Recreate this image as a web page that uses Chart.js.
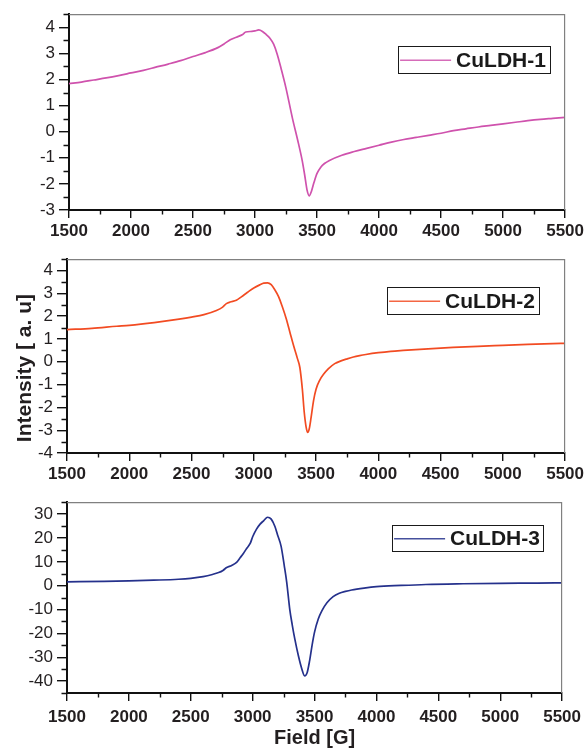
<!DOCTYPE html>
<html>
<head>
<meta charset="utf-8">
<title>EPR spectra of CuLDH samples</title>
<script src="https://cdn.jsdelivr.net/npm/chart.js@4.4.1/dist/chart.umd.min.js"></script>
<style>
  html, body { margin: 0; padding: 0; background: #ffffff; }
  #wrap { position: relative; width: 587px; height: 751px; overflow: hidden; }
  .panel { position: absolute; left: 0; width: 587px; }
</style>
</head>
<body>
<div id="wrap">
  <div class="panel" style="top:0;height:245px"><canvas id="c1"></canvas></div>
  <div class="panel" style="top:245px;height:243px"><canvas id="c2"></canvas></div>
  <div class="panel" style="top:488px;height:263px"><canvas id="c3"></canvas></div>
</div>
<script>
// ---- spectra (field in gauss, intensity in arbitrary units) ----
const FIELD_1 = [1500,1600,1700,1800,1900,2000,2100,2200,2300,2400,2500,2600,2700,2750,2800,2850,2900,2925,2975,3000,3030,3060,3090,3120,3150,3180,3210,3250,3300,3350,3380,3400,3420,3437,3455,3475,3500,3530,3560,3600,3700,3800,3900,4000,4100,4200,4300,4400,4500,4600,4700,4800,4900,5000,5100,5200,5300,5400,5500];
const CULDH_1 = [1.84,1.90,1.98,2.06,2.15,2.25,2.35,2.47,2.59,2.72,2.88,3.03,3.22,3.36,3.52,3.62,3.72,3.82,3.84,3.86,3.90,3.84,3.72,3.58,3.35,2.95,2.42,1.66,0.55,-0.45,-1.10,-1.65,-2.25,-2.46,-2.28,-1.95,-1.60,-1.36,-1.22,-1.10,-0.90,-0.76,-0.64,-0.52,-0.40,-0.30,-0.22,-0.14,-0.06,0.04,0.11,0.18,0.24,0.30,0.36,0.42,0.47,0.51,0.55];

const FIELD_2 = [1500,1700,1900,2000,2200,2400,2500,2600,2700,2750,2780,2810,2860,2900,2950,3000,3050,3080,3110,3140,3170,3200,3230,3260,3290,3320,3350,3370,3390,3405,3420,3433,3445,3460,3480,3500,3530,3560,3600,3650,3700,3750,3800,3850,3900,4000,4100,4200,4400,4600,4800,5000,5200,5400,5500];
const CULDH_2 = [1.41,1.47,1.56,1.60,1.72,1.87,1.96,2.07,2.25,2.40,2.55,2.62,2.70,2.85,3.05,3.24,3.38,3.45,3.46,3.38,3.15,2.85,2.40,1.90,1.30,0.70,0.15,-0.25,-1.20,-2.20,-2.85,-3.10,-2.95,-2.45,-1.70,-1.20,-0.80,-0.55,-0.30,-0.08,0.04,0.13,0.21,0.27,0.32,0.40,0.46,0.50,0.57,0.63,0.68,0.72,0.76,0.80,0.81];

const FIELD_3 = [1500,1800,2000,2200,2400,2500,2600,2675,2725,2760,2790,2830,2870,2900,2925,2950,2980,3000,3030,3060,3090,3120,3150,3180,3200,3230,3255,3275,3300,3320,3340,3370,3395,3420,3440,3460,3480,3500,3530,3560,3600,3650,3700,3750,3800,3900,4000,4200,4400,4700,5000,5300,5500];
const CULDH_3 = [1.6,1.8,2.0,2.3,2.7,3.1,3.8,4.7,5.5,6.4,7.6,8.5,9.8,11.8,13.5,15.5,17.7,20.5,23.6,25.8,27.3,28.7,27.9,24.8,21.5,16.5,8.5,1.5,-10.0,-16.5,-22.2,-29.5,-34.5,-37.8,-36.5,-31.5,-25.0,-19.5,-14.0,-10.5,-7.2,-4.6,-3.2,-2.4,-1.8,-1.0,-0.4,0.1,0.5,0.8,1.0,1.1,1.2];

// ---- axis settings ----
const FIELD_RANGE = [1500, 5500];
const FIELD_STEP = 500;
const Y_RANGE_1 = [-3, 4.5], Y_STEP_1 = 1;
const Y_RANGE_2 = [-4, 4.5], Y_STEP_2 = 1;
const Y_RANGE_3 = [-45, 35], Y_STEP_3 = 10;

const FONT = '"Liberation Sans", Arial, Helvetica, sans-serif';
const INK = '#231f20';

function toPoints(xs, ys) {
  return xs.map((x, i) => ({ x: x, y: ys[i] }));
}

// major ticks on whole multiples of the step, inside [min, max]
function stepTicks(min, max, step) {
  const out = [];
  for (let k = Math.ceil(min / step - 1e-9); k * step <= max + 1e-9; k++) {
    out.push({ value: +(k * step).toFixed(6) });
  }
  return out;
}

// Top/right frame, half-step minor ticks, boxed legend and free axis label
const decor = {
  id: 'decor',
  afterDraw(chart, args, o) {
    const { ctx, chartArea: a, scales } = chart;
    const xs = scales.x, ys = scales.y;
    ctx.save();

    // thin grey frame on top and right
    ctx.strokeStyle = '#808080';
    ctx.lineWidth = 1.2;
    ctx.beginPath();
    ctx.moveTo(a.left, a.top + 0.5);
    ctx.lineTo(a.right - 0.5, a.top + 0.5);
    ctx.lineTo(a.right - 0.5, a.bottom);
    ctx.stroke();

    // minor ticks (outside the axes)
    ctx.strokeStyle = '#111';
    ctx.lineWidth = 1.4;
    ctx.beginPath();
    const xm = o.xStep / 2;
    for (let v = Math.ceil(xs.min / xm) * xm; v <= xs.max + 1e-9; v += xm) {
      if (Math.abs(v / o.xStep - Math.round(v / o.xStep)) < 1e-6) continue;
      const px = Math.round(xs.getPixelForValue(v)) + 0.5;
      ctx.moveTo(px, a.bottom);
      ctx.lineTo(px, a.bottom + 4.5);
    }
    const ym = o.yStep / 2;
    for (let v = Math.ceil(ys.min / ym) * ym; v <= ys.max + 1e-9; v += ym) {
      if (Math.abs(v / o.yStep - Math.round(v / o.yStep)) < 1e-6) continue;
      const py = Math.round(ys.getPixelForValue(v)) + 0.5;
      ctx.moveTo(a.left, py);
      ctx.lineTo(a.left - 5.5, py);
    }
    ctx.stroke();

    // legend box
    const ds = chart.data.datasets[0];
    const L = o.legend;
    const bx = a.right - L.right - L.w;
    const by = a.top + L.top;
    ctx.fillStyle = '#fff';
    ctx.fillRect(bx, by, L.w, L.h);
    ctx.strokeStyle = '#1a1a1a';
    ctx.lineWidth = 1;
    ctx.strokeRect(Math.round(bx) + 0.5, Math.round(by) + 0.5, L.w, L.h);
    const cy = by + L.h / 2 + 0.5;
    ctx.strokeStyle = ds.borderColor;
    ctx.globalAlpha = 0.85;
    ctx.lineWidth = 1.5;
    ctx.beginPath();
    ctx.moveTo(bx + 2, cy);
    ctx.lineTo(bx + 53, cy);
    ctx.stroke();
    ctx.globalAlpha = 1;
    ctx.fillStyle = '#1a1a1a';
    ctx.font = 'bold 21px ' + FONT;
    ctx.textBaseline = 'middle';
    ctx.textAlign = 'left';
    ctx.fillText(ds.label, bx + 58, cy + 1);

    // vertical axis label shared by the stacked panels
    if (o.sideTitle) {
      ctx.translate(o.sideTitle.x, (a.top + a.bottom) / 2 + o.sideTitle.dy);
      ctx.rotate(-Math.PI / 2);
      ctx.fillStyle = INK;
      ctx.font = 'bold 21px ' + FONT;
      ctx.textAlign = 'center';
      ctx.textBaseline = 'middle';
      ctx.fillText(o.sideTitle.text, 0, 0);
    }
    ctx.restore();
  }
};

function makePanel(canvasId, cfg) {
  const xScale = {
    type: 'linear',
    min: FIELD_RANGE[0],
    max: FIELD_RANGE[1],
    afterFit(s) { s.height = cfg.xHeight; },
    afterBuildTicks(s) { s.ticks = stepTicks(s.min, s.max, FIELD_STEP); },
    ticks: {
      stepSize: FIELD_STEP,
      color: INK,
      padding: cfg.xPad,
      maxRotation: 0,
      autoSkip: false,
      font: { family: FONT, size: 17, weight: 'bold' },
      callback: (v) => String(v)
    },
    grid: { drawOnChartArea: false, drawTicks: true, tickLength: 8, color: '#111', lineWidth: 1.4 },
    border: { display: true, color: '#111', width: 2 }
  };
  if (cfg.xTitle) {
    xScale.title = {
      display: true,
      text: cfg.xTitle,
      color: INK,
      font: { family: FONT, size: 20, weight: 'bold' },
      padding: { top: 0, bottom: 1 }
    };
  }
  const yStep = cfg.yStep;
  return new Chart(document.getElementById(canvasId), {
    type: 'line',
    data: {
      datasets: [{
        label: cfg.label,
        data: toPoints(cfg.xs, cfg.ys),
        borderColor: cfg.color,
        borderWidth: 1.7,
        pointRadius: 0,
        fill: false,
        cubicInterpolationMode: 'monotone'
      }]
    },
    options: {
      responsive: true,
      maintainAspectRatio: false,
      animation: false,
      events: [],
      layout: { padding: cfg.padding },
      plugins: {
        legend: { display: false },
        tooltip: { enabled: false },
        decor: {
          xStep: FIELD_STEP,
          yStep: yStep,
          legend: cfg.legend,
          sideTitle: cfg.sideTitle || null
        }
      },
      scales: {
        x: xScale,
        y: {
          type: 'linear',
          min: cfg.yRange[0],
          max: cfg.yRange[1],
          afterFit(s) { s.width = cfg.yWidth; },
          afterBuildTicks(s) { s.ticks = stepTicks(s.min, s.max, yStep); },
          ticks: {
            stepSize: yStep,
            color: INK,
            padding: 4,
            autoSkip: false,
            font: { family: FONT, size: 17 },
            callback: (v) => String(v)
          },
          grid: { drawOnChartArea: false, drawTicks: true, tickLength: 10, color: '#111', lineWidth: 1.4 },
          border: { display: true, color: '#111', width: 2 }
        }
      }
    },
    plugins: [decor]
  });
}

makePanel('c1', {
  label: 'CuLDH-1', xs: FIELD_1, ys: CULDH_1, color: '#cf52ad',
  yRange: Y_RANGE_1, yStep: Y_STEP_1,
  yWidth: 69, xHeight: 35, xPad: 3,
  padding: { top: 13, right: 20, left: 0, bottom: 0 },
  legend: { right: 15, top: 32, w: 152, h: 27 }
});

makePanel('c2', {
  label: 'CuLDH-2', xs: FIELD_2, ys: CULDH_2, color: '#f24b22',
  yRange: Y_RANGE_2, yStep: Y_STEP_2,
  yWidth: 67, xHeight: 35, xPad: 3,
  padding: { top: 10, right: 21, left: 0, bottom: 0 },
  legend: { right: 26, top: 28, w: 152, h: 27 },
  sideTitle: { text: 'Intensity [ a. u]', x: 25, dy: 12 }
});

makePanel('c3', {
  label: 'CuLDH-3', xs: FIELD_3, ys: CULDH_3, color: '#25318c',
  yRange: Y_RANGE_3, yStep: Y_STEP_3,
  yWidth: 67, xHeight: 58, xPad: 6,
  padding: { top: 7, right: 21, left: 0, bottom: 0 },
  legend: { right: 19, top: 23, w: 151, h: 26 },
  xTitle: 'Field [G]'
});
</script>
</body>
</html>
